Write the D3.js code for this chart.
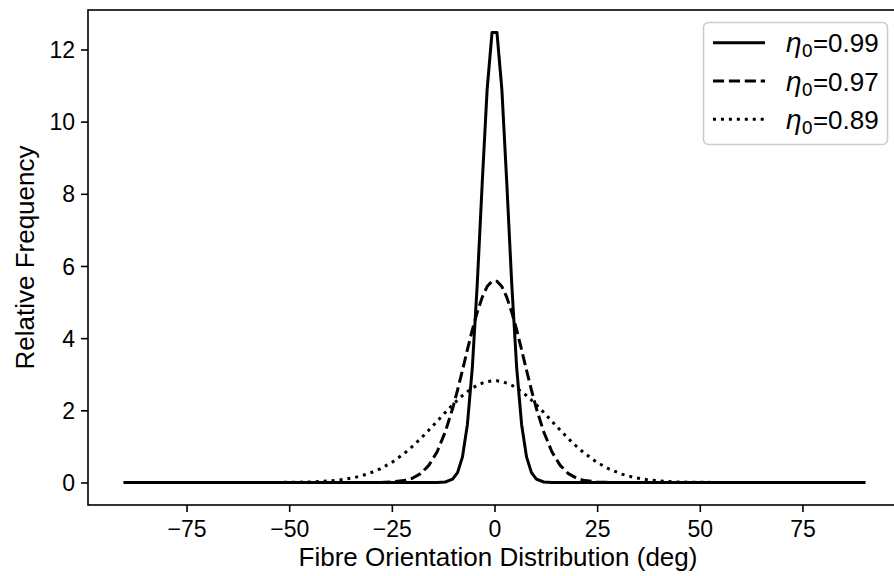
<!DOCTYPE html>
<html><head><meta charset="utf-8">
<script src="https://cdn.jsdelivr.net/npm/d3@7"></script>
<style>
html,body{margin:0;padding:0;background:#fff;}
svg{display:block;font-family:"Liberation Sans",Arial,Helvetica,sans-serif;}
</style></head>
<body>
<svg id="chart" width="894" height="576"></svg>
<script>
// Data
const angles = [-90,-65,-55,-48,-44,-40,-37,-34,-31,-28,-25,-22,-20,-18,-16,-14,-12,-10.2,-9.0,-7.8,-6.6,-5.4,-4.2,-3.0,-1.8,-0.6,
                 0.6,1.8,3.0,4.2,5.4,6.6,7.8,9.0,10.2,12,14,16,18,20,22,25,28,31,34,37,40,44,48,55,65,90];
const eta099 = [0,0,0,0,0,0,0,0,0,0,0,0,0,0,0,0.001,0.014,0.092,0.273,0.710,1.61,3.18,5.50,8.28,10.88,12.47,
                12.47,10.88,8.28,5.50,3.18,1.61,0.710,0.273,0.092,0.014,0.001,0,0,0,0,0,0,0,0,0,0,0,0,0,0,0];
const eta097 = [0,0,0,0,0,0,0,0,0,0.003,0.014,0.053,0.118,0.246,0.474,0.846,1.40,2.05,2.56,3.11,3.68,4.23,4.72,5.13,5.43,5.58,
                5.58,5.43,5.13,4.72,4.23,3.68,3.11,2.56,2.05,1.40,0.846,0.474,0.246,0.118,0.053,0.014,0.003,0,0,0,0,0,0,0,0,0];
const eta089 = [0,0,0.001,0.007,0.018,0.044,0.081,0.140,0.232,0.368,0.556,0.802,0.998,1.215,1.450,1.695,1.940,2.152,2.285,2.408,2.518,2.614,2.694,2.755,2.796,2.817,
                2.817,2.796,2.755,2.694,2.614,2.518,2.408,2.285,2.152,1.940,1.695,1.450,1.215,0.998,0.802,0.556,0.368,0.232,0.140,0.081,0.044,0.018,0.007,0.001,0,0];
const seriesNames = ["0.99","0.97","0.89"];
const seriesValues = [eta099, eta097, eta089];
const seriesDash = ["none","11.1,4.8","3,4.95"];
const xTicks = [-75,-50,-25,0,25,50,75];
const yTicks = [0,2,4,6,8,10,12];
const xLabel = "Fibre Orientation Distribution (deg)";
const yLabel = "Relative Frequency";

const svg = d3.select("#chart");
const L = 88, R = 901, T = 10, B = 505;
const x = d3.scaleLinear().domain([-99, 99]).range([L, R]);
const y = d3.scaleLinear().domain([-0.6235, 13.0935]).range([B, T]);

svg.append("defs").append("clipPath").attr("id","clip")
  .append("rect").attr("x",L).attr("y",T).attr("width",R-L).attr("height",B-T);

const g = svg.append("g").attr("clip-path","url(#clip)");
const line = d3.line().x(d=>x(d[0])).y(d=>y(d[1]));
seriesValues.forEach((vals,i)=>{
  const pts = angles.map((a,j)=>[a, vals[j]]);
  g.append("path").datum(pts)
    .attr("d", line)
    .attr("fill","none")
    .attr("stroke","#000")
    .attr("stroke-width",3)
    .attr("stroke-linejoin","round")
    .attr("stroke-linecap", i===0 ? "square" : "butt")
    .attr("stroke-dasharray", seriesDash[i]);
});

// axes
const xAxis = d3.axisBottom(x).tickValues(xTicks).tickSize(7).tickPadding(8)
  .tickFormat(d => d < 0 ? "\u2212" + Math.abs(d) : String(d));
const yAxis = d3.axisLeft(y).tickValues(yTicks).tickSize(7).tickPadding(6);
const gx = svg.append("g").attr("transform",`translate(0,${B})`).call(xAxis);
const gy = svg.append("g").attr("transform",`translate(${L},0)`).call(yAxis);
[gx,gy].forEach(a=>{
  a.select(".domain").remove();
  a.selectAll(".tick line").attr("stroke","#000").attr("stroke-width",1.6);
  a.selectAll(".tick text").attr("fill","#000").attr("font-size",23)
    .attr("font-family","'Liberation Sans',Arial,sans-serif");
});
gy.selectAll(".tick text").attr("dy","0.35em");
gx.selectAll(".tick text").attr("dy","0.72em");

// spines
svg.append("rect").attr("x",L).attr("y",T).attr("width",R-L).attr("height",B-T)
  .attr("fill","none").attr("stroke","#000").attr("stroke-width",1.6);

// axis labels
svg.append("text").attr("x",498).attr("y",566).attr("text-anchor","middle")
  .attr("font-size",26).attr("fill","#000").text(xLabel);
svg.append("text").attr("transform",`translate(34,${(T+B)/2}) rotate(-90)`)
  .attr("text-anchor","middle").attr("font-size",26).attr("fill","#000").text(yLabel);

// legend
const lg = svg.append("g");
lg.append("rect").attr("x",703.5).attr("y",22.5).attr("width",184).attr("height",122)
  .attr("rx",5).attr("fill","#fff").attr("fill-opacity",0.8)
  .attr("stroke","#cccccc").attr("stroke-width",1.6);
seriesNames.forEach((nm,i)=>{
  const yy = 42.7 + i*38.3;
  lg.append("line").attr("x1",713).attr("x2",765).attr("y1",yy).attr("y2",yy)
    .attr("stroke","#000").attr("stroke-width",3)
    .attr("stroke-dasharray",seriesDash[i]).attr("stroke-linecap","butt");
  const t = lg.append("text").attr("x",785).attr("y",yy+9.5).attr("font-size",26).attr("fill","#000");
  t.append("tspan").attr("font-family","'DejaVu Sans',sans-serif").attr("font-style","italic").text("\u03b7");
  t.append("tspan").attr("font-family","'DejaVu Sans',sans-serif").attr("font-size",18).attr("dy",5).text("0");
  t.append("tspan").attr("dy",-5).text("=" + nm);
});
</script>
</body></html>
